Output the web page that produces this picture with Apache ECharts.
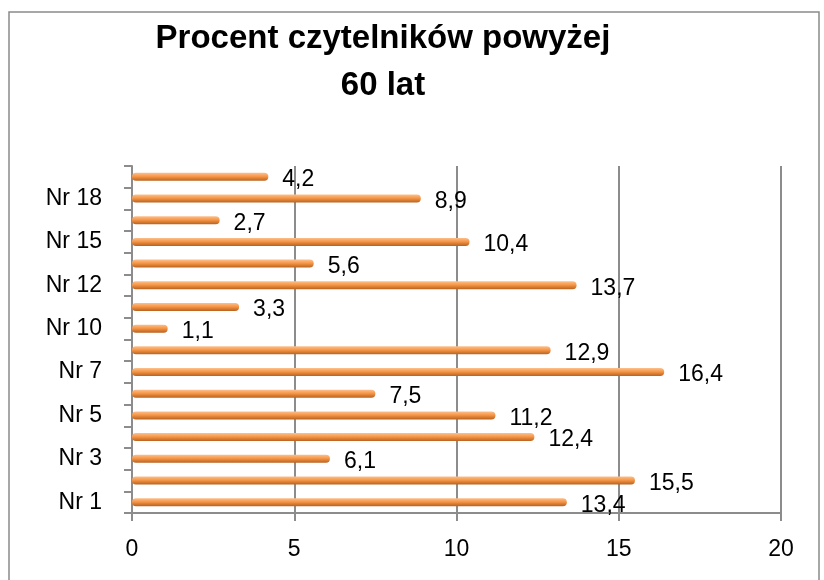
<!DOCTYPE html>
<html>
<head>
<meta charset="utf-8">
<script src="https://cdn.jsdelivr.net/npm/echarts@6/dist/echarts.min.js"></script>
<style>
  html, body { margin: 0; padding: 0; background: #fff; }
  #chart_container { width: 824px; height: 580px; }
</style>
</head>
<body>
<div id="chart_container"></div>
<script>
// categories bottom -> top; only every other name is printed on the axis
const categories = ['Nr 1', 'Nr 2', 'Nr 3', 'Nr 4', 'Nr 5', 'Nr 6', 'Nr 7', 'Nr 8',
    'Nr 10', 'Nr 11', 'Nr 12', 'Nr 13', 'Nr 15', 'Nr 16', 'Nr 18', 'Nr 19'];
const percent = [13.4, 15.5, 6.1, 12.4, 11.2, 7.5, 16.4, 12.9,
    1.1, 3.3, 13.7, 5.6, 10.4, 2.7, 8.9, 4.2];
const xTicks = [0, 5, 10, 15, 20];
const titleLines = ['Procent czytelników powyżej', '60 lat'];

const font = 'Liberation Sans, Arial, sans-serif';
const gridColor = '#8c8c8c';

let chart = echarts.init(document.getElementById('chart_container'), null, {renderer: 'canvas'});

let barColor = new echarts.graphic.LinearGradient(0, 0, 0, 1, [
    {offset: 0, color: '#fbc08e'},
    {offset: 0.45, color: '#f79646'},
    {offset: 1, color: '#b8621f'}
]);

let chart_options = {
    animation: false,
    backgroundColor: '#fff',
    title: {
        text: titleLines.join('\n'),
        left: 378,
        top: 10,
        textAlign: 'center',
        textStyle: {
            fontFamily: font,
            fontSize: 33,
            fontWeight: 'bold',
            color: '#000',
            lineHeight: 47
        }
    },
    graphic: [{
        type: 'rect',
        shape: {x: 9, y: 12, width: 810, height: 600},
        style: {fill: 'none', stroke: '#8a8a8a', lineWidth: 1.5},
        silent: true,
        z: -1
    }],
    grid: {left: 132, right: 43, top: 166, bottom: 67},
    xAxis: {
        type: 'value',
        min: xTicks[0],
        max: xTicks[xTicks.length - 1],
        interval: 5,
        axisLine: {show: true, lineStyle: {color: gridColor, width: 2}},
        axisTick: {show: true, length: 8, lineStyle: {color: gridColor, width: 2}},
        axisLabel: {
            margin: 25,
            fontFamily: font,
            fontSize: 23,
            color: '#000'
        },
        splitLine: {show: true, lineStyle: {color: gridColor, width: 2}}
    },
    yAxis: {
        type: 'category',
        data: categories,
        axisLine: {show: true, lineStyle: {color: gridColor, width: 2}},
        axisTick: {show: true, interval: 0, length: 8, lineStyle: {color: gridColor, width: 2}},
        axisLabel: {
            interval: 1,
            margin: 30,
            fontFamily: font,
            fontSize: 23,
            color: '#000'
        }
    },
    series: [{
        type: 'bar',
        data: percent,
        barWidth: 8,
        itemStyle: {
            color: barColor,
            borderRadius: 4
        },
        label: {
            show: true,
            position: 'right',
            distance: 14,
            offset: [0, 3],
            fontFamily: font,
            fontSize: 23,
            color: '#000',
            formatter: p => String(p.value).replace('.', ',')
        }
    }]
};

chart.setOption(chart_options);
</script>
</body>
</html>
